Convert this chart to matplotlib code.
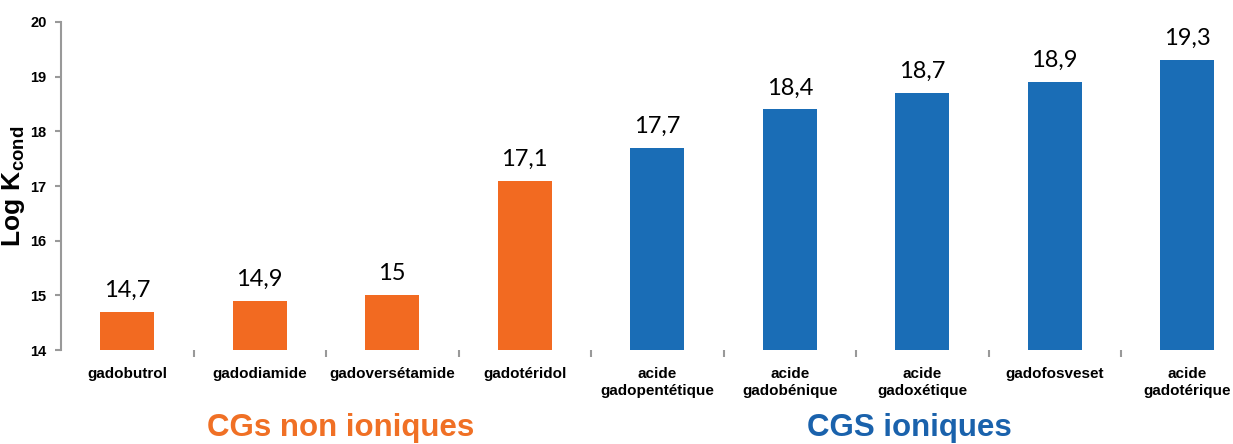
"""Bar chart of conditional stability constants (log K_cond) for gadolinium contrast agents."""
import matplotlib
matplotlib.use("Agg")
import matplotlib.pyplot as plt
from matplotlib.ticker import FixedLocator

agents = ["gadobutrol", "gadodiamide", "gadoversétamide", "gadotéridol",
          "acide\ngadopentétique", "acide\ngadobénique", "acide\ngadoxétique",
          "gadofosveset", "acide\ngadotérique"]
log_k = [14.7, 14.9, 15.0, 17.1, 17.7, 18.4, 18.7, 18.9, 19.3]
value_labels = ["14,7", "14,9", "15", "17,1", "17,7", "18,4", "18,7", "18,9", "19,3"]
ionic = [False, False, False, False, True, True, True, True, True]
yticks = [14, 15, 16, 17, 18, 19, 20]

ORANGE = "#F26A21"
BLUE = "#1A6DB6"
SANS = "Liberation Sans"

plt.rcParams["font.family"] = [SANS, "DejaVu Sans"]
plt.rcParams["mathtext.fontset"] = "custom"
plt.rcParams["mathtext.bf"] = SANS + ":bold"
plt.rcParams["mathtext.rm"] = SANS

fig = plt.figure(figsize=(12.33, 4.44), dpi=100)
ax = fig.add_axes([61 / 1233, 94 / 444, 1 - 61 / 1233, 328 / 444])

x = list(range(len(agents)))
colors = [BLUE if i else ORANGE for i in ionic]
ax.bar(x, [v - 14 for v in log_k], bottom=14, width=0.41, color=colors)

for xi, v, lab in zip(x, log_k, value_labels):
    ax.annotate(lab, (xi, v), xytext=(0, 8), textcoords="offset points",
                ha="center", va="bottom", fontsize=17, family="Lato")

ax.set_ylim(14, 20)
ax.set_xlim(-0.5, -0.5 + (1233 - 61) / 132.5)
ax.set_yticks(yticks)
ax.set_yticklabels([str(t) for t in yticks], fontsize=10.5, fontweight="bold")
ax.set_xticks(x)
ax.set_xticklabels(agents, fontsize=11, fontweight="bold", linespacing=1.3)
ax.tick_params(axis="x", which="major", length=0, pad=12)
ax.xaxis.set_minor_locator(FixedLocator([i + 0.5 for i in x]))
ax.tick_params(axis="x", which="minor", length=5, color="#999999", width=1.5)
ax.tick_params(axis="y", length=4.5, color="#999999", width=1.5, pad=6)

for s in ["top", "right", "bottom"]:
    ax.spines[s].set_visible(False)
ax.spines["left"].set_color("#999999")
ax.spines["left"].set_linewidth(1.5)

ax.set_ylabel(r"$\mathbf{Log\ K_{cond}}$", fontsize=19, labelpad=2)

fig.text(341 / 1233, 1 - 428 / 444, "CGs non ioniques", color="#F07025",
         fontsize=22.5, fontweight="bold", ha="center", va="center")
fig.text(909 / 1233, 1 - 428 / 444, "CGS ioniques", color="#1A62AC",
         fontsize=22.5, fontweight="bold", ha="center", va="center")

fig.savefig("out.png", dpi=100)
